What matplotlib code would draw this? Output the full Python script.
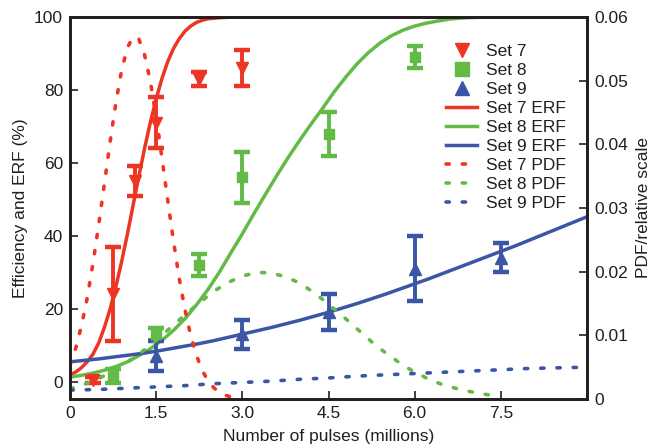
import matplotlib
matplotlib.use('Agg')
import matplotlib.pyplot as plt
from matplotlib.lines import Line2D

plt.rcParams['font.family'] = ['Liberation Sans', 'DejaVu Sans']

RED = '#EE3524'
GREEN = '#63BA47'
BLUE = '#3A56A5'
INK = '#231F20'

# ---- measured efficiency (%) with error bars ----
set7_x = [0.4, 0.75, 1.13, 1.5, 2.25, 3.0]
set7_y = [0.5, 24, 55, 71, 83, 86]
set7_err = [0.8, 13, 4, 7, 2, 5]

set8_x = [0.75, 1.5, 2.25, 3.0, 4.5, 6.0]
set8_y = [1.5, 13, 32, 56, 68, 89]
set8_err = [1.8, 1.6, 3, 7, 6, 3]

set9_x = [1.5, 3.0, 4.5, 6.0, 7.5]
set9_y = [7, 13, 19, 31, 34]
set9_err = [4, 4, 5, 9, 4]

# ---- ERF curves (%) ----
erf7_x = [0, 0.1, 0.2, 0.3, 0.4, 0.5, 0.6, 0.7, 0.8, 0.9, 1.0, 1.1, 1.2, 1.3, 1.4,
          1.5, 1.6, 1.7, 1.8, 1.9, 2.0, 2.1, 2.2, 2.3, 2.4, 2.6, 2.8, 3.0, 3.15]
erf7_y = [1.8, 2.6, 3.8, 5.4, 7.5, 10.6, 14.9, 20.0, 26.1, 33.0, 40.5, 48.5, 56.4,
          64.1, 71.2, 77.5, 83.1, 87.7, 91.3, 94.0, 96.1, 97.5, 98.5, 99.1, 99.5,
          99.8, 99.95, 100, 100]

erf8_x = [0, 0.2, 0.4, 0.6, 0.8, 1.0, 1.2, 1.4, 1.6, 1.8, 2.0, 2.2, 2.4, 2.6,
          2.8, 3.0, 3.2, 3.4, 3.6, 3.8, 4.0, 4.2, 4.4, 4.6, 4.8, 5.0, 5.2, 5.4,
          5.6, 5.8, 6.0, 6.2, 6.4, 6.6, 6.8, 7.0, 7.2, 7.4, 7.65]
erf8_y = [1.2, 1.7, 2.3, 3.1, 4.1, 5.4, 7.1, 9.0, 11.3, 14.0, 17.2, 21.0, 25.2,
          30.0, 35.3, 40.5, 46.0, 51.3, 56.5, 61.5, 66.2, 70.7, 75.0, 79.5, 83.5,
          87.2, 90.3, 92.9, 94.9, 96.4, 97.5, 98.3, 98.9, 99.4, 99.7, 99.85,
          99.95, 100, 100]

erf9_x = [0, 0.25, 0.5, 0.75, 1.0, 1.25, 1.5, 1.75, 2.0, 2.25, 2.5, 2.75, 3.0,
          3.25, 3.5, 3.75, 4.0, 4.25, 4.5, 4.75, 5.0, 5.25, 5.5, 5.75, 6.0, 6.25,
          6.5, 6.75, 7.0, 7.25, 7.5, 7.75, 8.0, 8.25, 8.5, 8.75, 9.0]
erf9_y = [5.4, 5.8, 6.2, 6.7, 7.2, 7.7, 8.3, 9.0, 9.7, 10.4, 11.2, 12.1, 13.0,
          13.9, 14.8, 15.8, 16.8, 17.9, 19.0, 20.2, 21.4, 22.7, 24.0, 25.4, 26.8,
          28.2, 29.7, 31.2, 32.7, 34.2, 35.7, 37.2, 38.8, 40.4, 42.0, 43.6, 45.2]

# ---- PDF curves (relative scale, right axis) ----
pdf7_x = [0, 0.1, 0.2, 0.3, 0.4, 0.5, 0.6, 0.7, 0.8, 0.9, 1.0, 1.1, 1.2, 1.3,
          1.4, 1.5, 1.6, 1.7, 1.8, 1.9, 2.0, 2.1, 2.2, 2.3, 2.4, 2.5, 2.6, 2.7,
          2.8, 2.9]
pdf7_y = [0.0054, 0.0080, 0.0115, 0.0159, 0.0213, 0.0274, 0.0339, 0.0405,
          0.0466, 0.0517, 0.0552, 0.0569, 0.0565, 0.0540, 0.0498, 0.0443,
          0.0379, 0.0313, 0.0249, 0.0190, 0.0141, 0.0100, 0.0069, 0.0045,
          0.0029, 0.0018, 0.00105, 0.0006, 0.00033, 0.0002]

pdf8_x = [0, 0.25, 0.5, 0.75, 1.0, 1.25, 1.5, 1.75, 2.0, 2.25, 2.5, 2.75, 3.0,
          3.25, 3.5, 3.75, 4.0, 4.25, 4.5, 4.75, 5.0, 5.25, 5.5, 5.75, 6.0,
          6.25, 6.5, 6.75, 7.0, 7.25, 7.5]
pdf8_y = [0.0016, 0.0023, 0.0032, 0.0044, 0.0058, 0.0074, 0.0092, 0.0112,
          0.0132, 0.0151, 0.0169, 0.0183, 0.0193, 0.0199, 0.0198, 0.0192,
          0.0182, 0.0167, 0.0149, 0.0130, 0.0110, 0.0090, 0.0072, 0.0056,
          0.0042, 0.0031, 0.0022, 0.0016, 0.0011, 0.0007, 0.0004]

pdf9_x = [0, 0.5, 1.0, 1.5, 2.0, 2.5, 3.0, 3.5, 4.0, 4.5, 5.0, 5.5, 6.0, 6.5,
          7.0, 7.5, 8.0, 8.5, 9.0]
pdf9_y = [0.0014, 0.0015, 0.0017, 0.0019, 0.0021, 0.0024, 0.0026, 0.0028,
          0.0031, 0.0033, 0.0036, 0.0038, 0.0040, 0.0042, 0.0044, 0.0046,
          0.0048, 0.0049, 0.0050]

x_ticks = [0, 1.5, 3.0, 4.5, 6.0, 7.5]
x_ticklabels = ['0', '1.5', '3.0', '4.5', '6.0', '7.5']
y_ticks = [0, 20, 40, 60, 80, 100]
y2_ticks = [0, 0.01, 0.02, 0.03, 0.04, 0.05, 0.06]
y2_ticklabels = ['0', '0.01', '0.02', '0.03', '0.04', '0.05', '0.06']

FS = 12.5
fig = plt.figure(figsize=(6.5, 4.47), dpi=100)
ax = fig.add_axes([70 / 650, 1 - 399 / 447, (587 - 70) / 650, (399 - 17) / 447])
ax2 = ax.twinx()

DOT = dict(lw=2.6, ls=(0, (0.9, 3.6)), dash_capstyle='round')
ERF_LW = 2.5

# ERF curves
ax.plot(erf7_x, erf7_y, color=RED, lw=ERF_LW, solid_capstyle='round', zorder=2)
ax.plot(erf8_x, erf8_y, color=GREEN, lw=ERF_LW, solid_capstyle='round', zorder=2)
ax.plot(erf9_x, erf9_y, color=BLUE, lw=ERF_LW, solid_capstyle='round', zorder=2)

eb = dict(elinewidth=2.8, capsize=6, capthick=3.2, zorder=3, ls='none')
ax.errorbar(set7_x, set7_y, yerr=set7_err, fmt='v', color=RED, ms=9, **eb)
ax.errorbar(set8_x, set8_y, yerr=set8_err, fmt='s', color=GREEN, ms=7.5, **eb)
ax.errorbar(set9_x, set9_y, yerr=set9_err, fmt='^', color=BLUE, ms=9, **eb)

# PDF curves on right axis
ax2.plot(pdf7_x, pdf7_y, color=RED, **DOT)
ax2.plot(pdf8_x, pdf8_y, color=GREEN, **DOT)
ax2.plot(pdf9_x, pdf9_y, color=BLUE, **DOT)

ax.set_xlim(0, 9)
ax.set_ylim(-4.8, 100)
ax2.set_ylim(0, 0.06)

ax.set_xticks(x_ticks)
ax.set_xticklabels(x_ticklabels)
ax.set_yticks(y_ticks)
ax2.set_yticks(y2_ticks)
ax2.set_yticklabels(y2_ticklabels)

for a in (ax, ax2):
    for s in a.spines.values():
        s.set_linewidth(2.0)
        s.set_color(INK)
ax.tick_params(axis='both', direction='in', length=6, width=1.2, color=INK,
               labelsize=FS, pad=5, labelcolor=INK, top=False, right=False)
ax2.tick_params(axis='y', direction='in', length=6, width=1.2, color=INK,
                labelsize=FS, pad=5, labelcolor=INK)

ax.set_xlabel('Number of pulses (millions)', fontsize=FS, color=INK, labelpad=6)
ax.set_ylabel('Efficiency and ERF (%)', fontsize=FS, color=INK, labelpad=4)
ax2.set_ylabel('PDF/relative scale', fontsize=FS, color=INK, labelpad=6)

handles = [
    Line2D([], [], ls='none', marker='v', color=RED, ms=10.5),
    Line2D([], [], ls='none', marker='s', color=GREEN, ms=9.5),
    Line2D([], [], ls='none', marker='^', color=BLUE, ms=10.5),
    Line2D([], [], color=RED, lw=ERF_LW),
    Line2D([], [], color=GREEN, lw=ERF_LW),
    Line2D([], [], color=BLUE, lw=ERF_LW),
    Line2D([], [], color=RED, **DOT),
    Line2D([], [], color=GREEN, **DOT),
    Line2D([], [], color=BLUE, **DOT),
]
labels = ['Set 7', 'Set 8', 'Set 9', 'Set 7 ERF', 'Set 8 ERF', 'Set 9 ERF',
          'Set 7 PDF', 'Set 8 PDF', 'Set 9 PDF']
leg = ax2.legend(handles, labels, loc='upper left',
                 bbox_to_anchor=(446 / 650, 1 - 44 / 447),
                 bbox_transform=fig.transFigure, frameon=False,
                 fontsize=FS, labelspacing=0.22, handlelength=1.8,
                 handletextpad=0.5, borderpad=0, borderaxespad=0)
for t in leg.get_texts():
    t.set_color(INK)

fig.savefig('out.png', dpi=100)
